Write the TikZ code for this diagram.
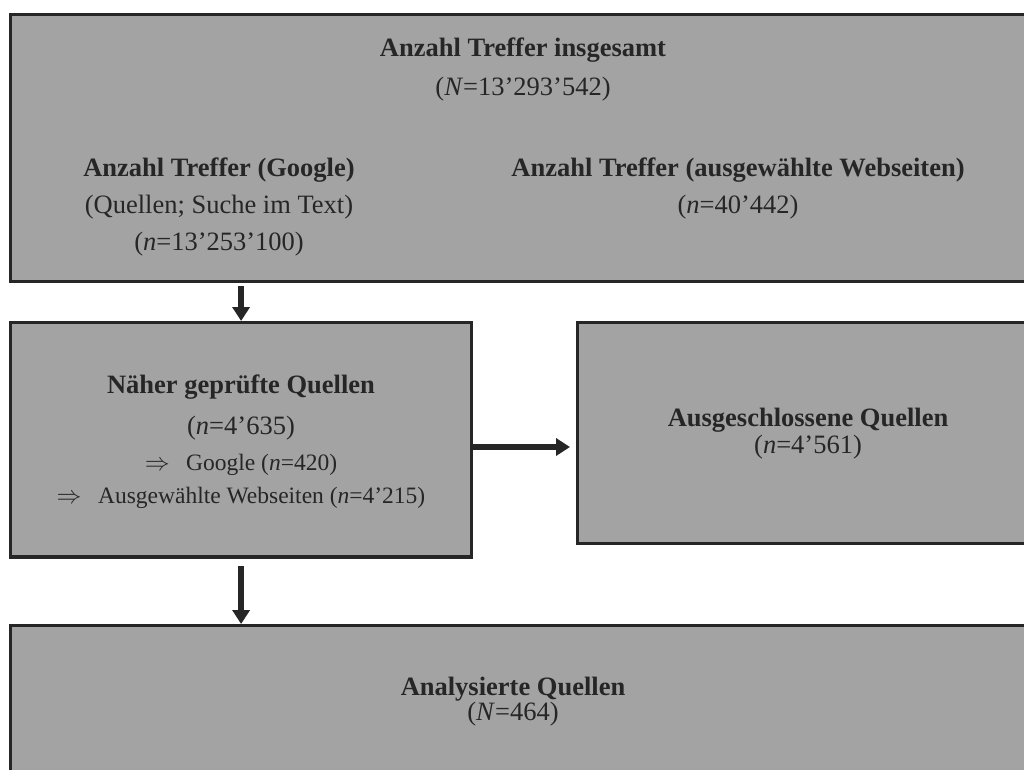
\documentclass[tikz,border=0pt]{standalone}
\usepackage{fontspec}
\setmainfont{Liberation Serif}
\usetikzlibrary{arrows.meta,calc}
\definecolor{boxfill}{RGB}{163,163,163}
\definecolor{ink}{RGB}{38,38,38}
\begin{document}
\begin{tikzpicture}[x=1pt,y=-1pt,
  panel/.style={draw=ink, fill=boxfill, line width=3.3pt, inner sep=0pt, outer sep=0pt, anchor=north west},
  txt/.style={font=\fontsize{26.5}{30}\selectfont, text=ink, anchor=base, inner sep=0pt},
  head/.style={txt, font=\fontsize{26.5}{30}\selectfont\bfseries},
  note/.style={txt, font=\fontsize{23.5}{27}\selectfont},
  flow/.style={draw=ink, line width=6.5pt, -{Triangle[length=14pt,width=17pt]}}
]
\clip (0,0) rectangle (1024,769);
\fill[white] (0,0) rectangle (1024,769);

% panels
\node[panel, minimum width=1029.3pt, minimum height=267.4pt] (total) at (10.7,14.3) {};
\node[panel, minimum width=460.8pt, minimum height=234.5pt] (checked) at (10.7,322.5) {};
\node[panel, minimum width=462.5pt, minimum height=221.4pt] (excluded) at (577.5,322.3) {};
\node[panel, minimum width=1029.3pt, minimum height=180pt] (analysed) at (10.7,625.5) {};

% connectors
\draw[flow, shorten <=4.3pt, shorten >=1.5pt] (checked.north |- total.south) -- (checked.north);
\draw[flow, shorten <=9pt, shorten >=1.5pt] (checked.south) -- (checked.south |- analysed.north);
\coordinate (side) at ($(checked.east)+(0,7.25)$);
\draw[flow, shorten >=7.5pt] (side) -- (side -| excluded.west);

% texts in the top panel
\node[head] (t1) at (523,56) {Anzahl Treffer insgesamt};
\node[txt]  (t2) at (523,95) {(\textit{N}=13’293’542)};
\node[head] (g1) at (219,176) {Anzahl Treffer (Google)};
\node[txt]  (g2) at (219,213) {(Quellen; Suche im Text)};
\node[txt]  (g3) at (219,250) {(\textit{n}=13’253’100)};
\node[head] (w1) at (738,176) {Anzahl Treffer (ausgewählte Webseiten)};
\node[txt]  (w2) at (738,213) {(\textit{n}=40’442)};

% checked sources
\node[head] (c1) at (241,393) {Näher geprüfte Quellen};
\node[txt]  (c2) at (241,434) {(\textit{n}=4’635)};
\node[note] (c3) at (241,470) {$\Rightarrow$\hspace{0.7em}Google (\textit{n}=420)};
\node[note] (c4) at (241,503) {$\Rightarrow$\hspace{0.7em}Ausgewählte Webseiten (\textit{n}=4’215)};

% excluded sources
\node[head] (e1) at (808,426) {Ausgeschlossene Quellen};
\node[txt]  (e2) at (808,453) {(\textit{n}=4’561)};

% analysed sources
\node[head] (a1) at (513,695) {Analysierte Quellen};
\node[txt]  (a2) at (513,720) {(\textit{N}=464)};
\end{tikzpicture}
\end{document}
